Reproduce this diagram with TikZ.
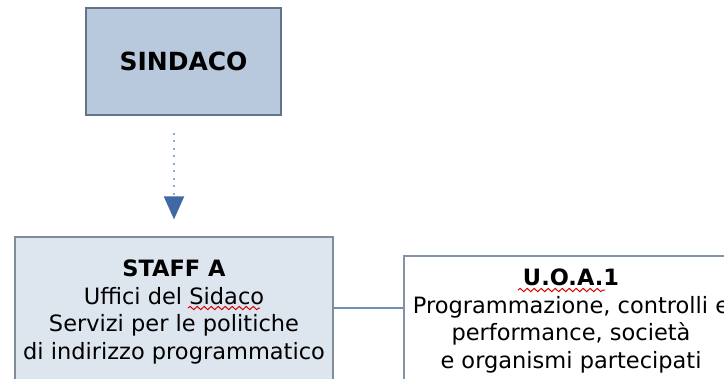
\documentclass[tikz,border=0pt]{standalone}
\usepackage{fontspec}
\setmainfont{DejaVu Sans}
\usetikzlibrary{arrows.meta,decorations.pathmorphing}
\definecolor{sindacofill}{RGB}{184,201,222}
\definecolor{sindacoline}{RGB}{100,116,136}
\definecolor{stafffill}{RGB}{221,229,239}
\definecolor{staffline}{RGB}{128,140,156}
\definecolor{uoaline}{RGB}{130,146,168}
\definecolor{arrowblue}{RGB}{64,104,164}
\definecolor{dotblue}{RGB}{140,168,206}
\definecolor{linkblue}{RGB}{112,142,182}

\begin{document}
\begin{tikzpicture}[x=1bp,y=-1bp,
  orgbox/.style={draw,line width=1.2bp,inner sep=0pt,align=center,
    font=\fontsize{22.5bp}{27.5bp}\selectfont},
  squiggle/.style={red!85!black,line width=1bp,decorate,
    decoration={snake,amplitude=1.6bp,segment length=7bp}}]
\useasboundingbox (0,0) rectangle (724,378);

% Sindaco
\node[orgbox,draw=sindacoline,fill=sindacofill,minimum width=195bp,minimum height=107bp,
  font=\fontsize{25bp}{30bp}\selectfont\bfseries] (sindaco) at (183.5,61.5) {SINDACO};

% Staff A
\node[orgbox,draw=staffline,fill=stafffill,minimum width=318bp,minimum height=150bp]
  (staffa) at (174,312) {\textbf{STAFF A}\\Uffici del Sidaco\\Servizi per le politiche\\di indirizzo programmatico};

% U.O.A. 1
\node[orgbox,draw=uoaline,fill=white,minimum width=334bp,minimum height=130bp]
  (uoa1) at (571,321) {\textbf{U.O.A.1}\\Programmazione, controlli e\\performance, società\\e organismi partecipati};

% Arrows
\coordinate (staffin) at (staffa.east |- 0,308);
\draw[linkblue,line width=1.2bp] (staffin) -- (staffin -| uoa1.west);
\draw[dotblue,line width=2bp,dash pattern=on 2bp off 5.5bp,shorten <=17bp,shorten >=17bp,
  -{Triangle[width=20bp,length=23bp,color=arrowblue]}]
  (sindaco.south -| staffa.north) -- (staffa.north);

% Spell marks
\draw[squiggle] (188,308) -- (260,308);
\draw[squiggle] (518,290) -- (605,290);
\end{tikzpicture}
\end{document}
